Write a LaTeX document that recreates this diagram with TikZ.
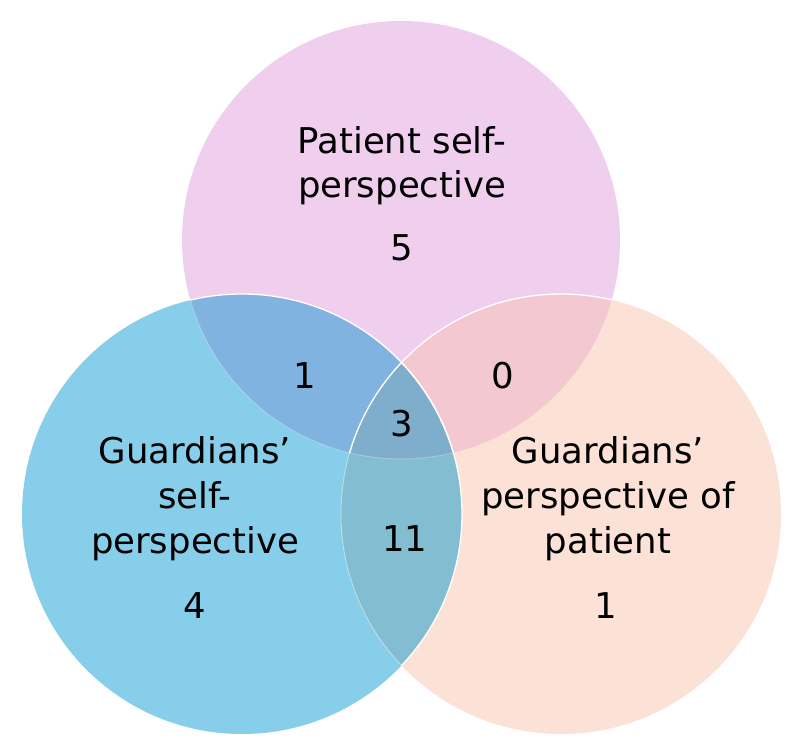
\documentclass[tikz,border=0pt]{standalone}
\usepackage{fontspec}
\setmainfont{DejaVu Sans}
\definecolor{pinkc}{RGB}{240,206,238}
\definecolor{bluec}{RGB}{135,206,235}
\definecolor{peachc}{RGB}{251,225,214}
\definecolor{bpc}{RGB}{128,179,224}
\definecolor{ppc}{RGB}{243,200,208}
\definecolor{bpec}{RGB}{131,189,210}
\definecolor{cenc}{RGB}{126,174,204}
\begin{document}
\begin{tikzpicture}[x=1pt,y=-1pt,
  lbl/.style={anchor=base,inner sep=0pt,font=\fontsize{35.5}{45}\selectfont,text=black},
  rim/.style={draw=white,line width=1.3pt}]
\useasboundingbox (0,0) rectangle (800,755);
\fill[white] (0,0) rectangle (800,755);
\coordinate (T) at (401,240);
\coordinate (L) at (242,514);
\coordinate (R) at (561,514);
\def\rT{219pt}\def\rL{220pt}\def\rR{220pt}
\fill[pinkc] (T) circle[radius=\rT];
\fill[bluec] (L) circle[radius=\rL];
\fill[peachc] (R) circle[radius=\rR];
\begin{scope}\clip (T) circle[radius=\rT]; \fill[bpc] (L) circle[radius=\rL]; \end{scope}
\begin{scope}\clip (T) circle[radius=\rT]; \fill[ppc] (R) circle[radius=\rR]; \end{scope}
\begin{scope}\clip (L) circle[radius=\rL]; \fill[bpec] (R) circle[radius=\rR]; \end{scope}
\begin{scope}\clip (T) circle[radius=\rT]; \clip (L) circle[radius=\rL]; \fill[cenc] (R) circle[radius=\rR]; \end{scope}
\begin{scope}\clip (T) circle[radius=\rT];
  \draw[rim] (L) circle[radius=\rL];
  \draw[rim] (R) circle[radius=\rR];
\end{scope}
\begin{scope}\clip (R) circle[radius=\rR];
  \draw[rim] (L) circle[radius=\rL];
\end{scope}
\begin{scope}\clip (L) circle[radius=\rL];
  \draw[draw=white,opacity=0.35,line width=1pt] (R) circle[radius=\rR];
  \draw[draw=white,opacity=0.25,line width=1pt] (T) circle[radius=\rT];
\end{scope}
% top circle
\node[lbl] (t1) at (402,153) {Patient self-};
\node[lbl] (t2) at (402,197) {perspective};
\node[lbl] (t5) at (402,260) {5};
% intersections
\node[lbl] (n1) at (305,388) {1};
\node[lbl] (n0) at (503,388) {0};
\node[lbl] (n3) at (402,436) {3};
\node[lbl] (n11) at (405,551) {11};
% left circle
\node[lbl] (l1) at (195,463) {Guardians’};
\node[lbl] (l2) at (195,508) {self-};
\node[lbl] (l3) at (195,553) {perspective};
\node[lbl] (l4) at (195,618) {4};
% right circle
\node[lbl] (r1) at (608,463) {Guardians’};
\node[lbl] (r2) at (608,508) {perspective of};
\node[lbl] (r3) at (608,553) {patient};
\node[lbl] (r4) at (606,618) {1};
\end{tikzpicture}
\end{document}
